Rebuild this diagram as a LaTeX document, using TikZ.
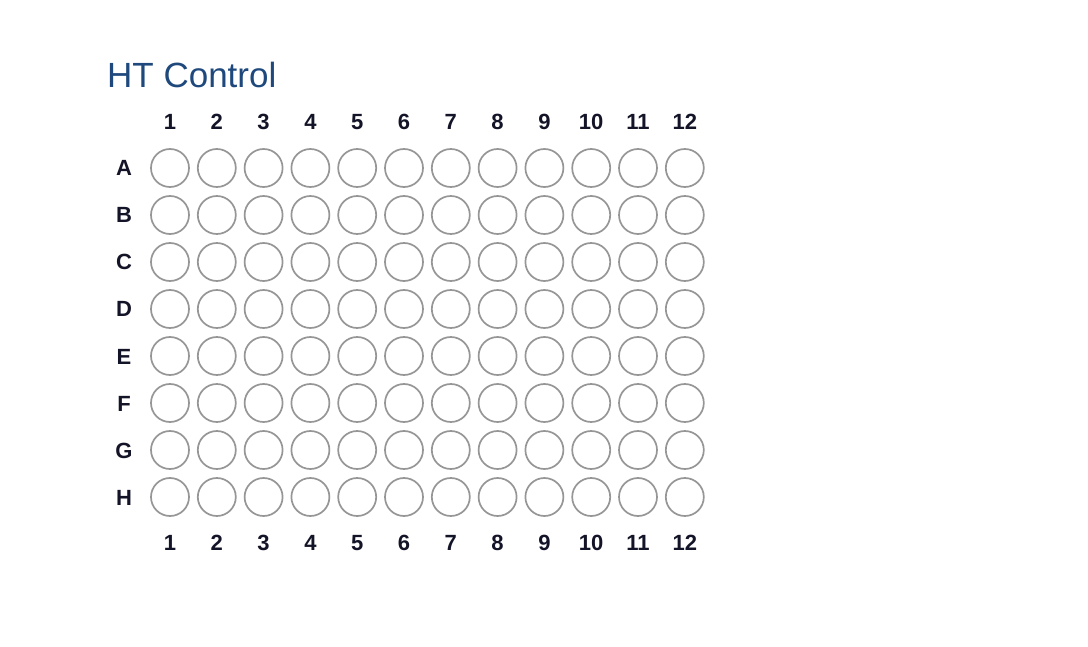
\documentclass[tikz,border=0pt]{standalone}
\usepackage{fontspec}
\setmainfont{Liberation Sans}
\definecolor{titleblue}{RGB}{31,73,125}
\definecolor{wellgray}{RGB}{150,150,150}
\definecolor{labelink}{RGB}{20,20,40}
\begin{document}
\begin{tikzpicture}[x=1pt,y=-1pt,
    well/.style={circle, draw=wellgray, line width=1.7pt, minimum size=38pt, inner sep=0pt},
    collabel/.style={anchor=base, font=\fontsize{22}{22}\selectfont\bfseries, text=labelink, inner sep=0pt},
    rowlabel/.style={anchor=base, font=\fontsize{22}{22}\selectfont\bfseries, text=labelink, inner sep=0pt}]

  % keep the page the size of the reference
  \useasboundingbox (0,0) rectangle (1088,647);

  % plate title
  \node[anchor=base west, inner sep=0pt, text=titleblue,
        font=\fontsize{35}{35}\selectfont] (title) at (107,88) {HT Control};

  % column numbers above and below the plate
  \foreach \c in {1,...,12} {
    \node[collabel] (top-\c) at ({170+46.8*(\c-1)},130) {\c};
    \node[collabel] (bot-\c) at ({170+46.8*(\c-1)},550) {\c};
  }

  % row letters and the 96 wells
  \foreach \r [count=\i] in {A,B,C,D,E,F,G,H} {
    \node[rowlabel] (row-\r) at (124,{176+47*(\i-1)}) {\r};
    \foreach \c in {1,...,12}
      \node[well] (w-\r-\c) at ({170+46.8*(\c-1)},{168+47*(\i-1)}) {};
  }

\end{tikzpicture}
\end{document}
